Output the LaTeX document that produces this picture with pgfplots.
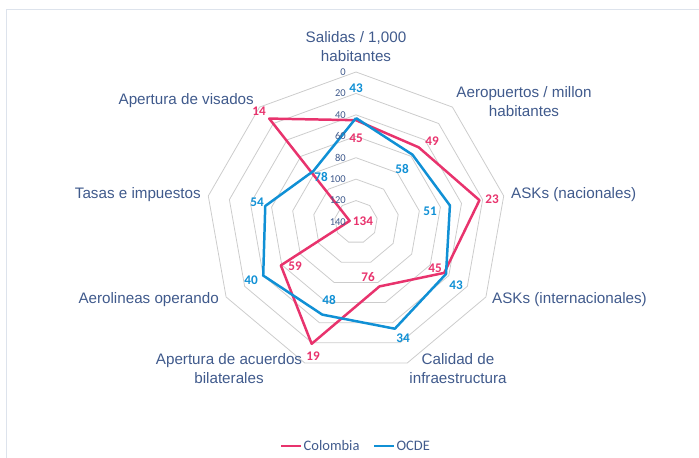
\documentclass[border=0pt]{standalone}
\usepackage{fontspec}
\setmainfont{Carlito}
\newfontfamily\arialf{Liberation Sans}
\usepackage{pgfplots}
\pgfplotsset{compat=1.18}
\usepackage{pgfplotstable}
\definecolor{colpink}{HTML}{E8336D}
\definecolor{colblue}{HTML}{1090D5}
\definecolor{textc}{HTML}{405A8C}
\definecolor{gridc}{HTML}{CCCCCC}
\definecolor{framec}{HTML}{DDE3EC}

\pgfplotstableread{
ang col ocde
90 45 43
50 49 58
10 23 51
-30 45 43
-70 76 34
-110 19 48
-150 59 40
-190 134 54
-230 14 78
90 45 43
}\datatab

\begin{document}
\begin{tikzpicture}
\begin{axis}[name=ax,
  width=699bp, height=458bp, scale only axis,
  xmin=-356, xmax=343, ymin=-236, ymax=222,
  hide axis, clip=false,
  legend columns=2,
  legend style={at={(0.509,0.026)}, anchor=center, draw=none, fill=none,
    font=\fontsize{14.5bp}{17bp}\selectfont, text=textc,
    nodes={inner sep=1.5bp},
    /tikz/every even column/.append style={column sep=12bp}},
  legend image code/.code={\draw[#1, line width=2pt] (0bp,0bp) -- (20bp,0bp);},
]
% frame
\draw[framec, line width=0.8pt] (axis cs:-350,-236) -- (axis cs:-350,213) -- (axis cs:343,213);
% grid nonagons
\pgfplotsinvokeforeach{20,40,60,80,100,120,140}{
  \addplot[gridc, line width=0.8pt, forget plot] table[
    x expr={1.0714286*#1*cos(\thisrow{ang})},
    y expr={1.0714286*#1*sin(\thisrow{ang})}] {\datatab};
}
% data
\addplot[colpink, line width=2.5pt, line join=round] table[
  x expr={1.0714286*(140-\thisrow{col})*cos(\thisrow{ang})},
  y expr={1.0714286*(140-\thisrow{col})*sin(\thisrow{ang})}] {\datatab};
\addlegendentry{Colombia}
\addplot[colblue, line width=2.5pt, line join=round] table[
  x expr={1.0714286*(140-\thisrow{ocde})*cos(\thisrow{ang})},
  y expr={1.0714286*(140-\thisrow{ocde})*sin(\thisrow{ang})}] {\datatab};
\addlegendentry{OCDE}
% tick labels
\pgfplotsinvokeforeach{0,20,40,60,80,100,120,140}{
  \node[anchor=east, inner sep=0pt, text=textc, font=\fontsize{10.5bp}{12bp}\selectfont]
    at (axis cs:-10,{1.0714286*(140-#1)}) {#1};
}
% category labels
\begin{scope}[every node/.style={inner sep=0pt, text=textc, font=\arialf\fontsize{15.2bp}{19bp}\selectfont, align=center}]
\node[anchor=center] at (axis cs:0,175) {Salidas / 1,000\\habitantes};
\node[anchor=center] at (axis cs:168,120) {Aeropuertos / millon\\habitantes};
\node[anchor=west] at (axis cs:155,27) {ASKs (nacionales)};
\node[anchor=west] at (axis cs:136,-78) {ASKs (internacionales)};
\node[anchor=center] at (axis cs:102,-147) {Calidad de\\infraestructura};
\node[anchor=center] at (axis cs:-127,-147) {Apertura de acuerdos\\bilaterales};
\node[anchor=east] at (axis cs:-137,-78) {Aerolineas operando};
\node[anchor=east] at (axis cs:-155,27) {Tasas e impuestos};
\node[anchor=east] at (axis cs:-102,121) {Apertura de visados};
\end{scope}
% data labels
\begin{scope}[every node/.style={inner sep=0pt, anchor=center, font=\bfseries\fontsize{13.2bp}{15bp}\selectfont}]
\node[text=colpink] at (axis cs:0,84) {45};
\node[text=colpink] at (axis cs:76,81) {49};
\node[text=colpink] at (axis cs:136,23) {23};
\node[text=colpink] at (axis cs:79,-46) {45};
\node[text=colpink] at (axis cs:12,-55) {76};
\node[text=colpink] at (axis cs:-43,-134) {19};
\node[text=colpink] at (axis cs:-61,-44) {59};
\node[text=colpink] at (axis cs:7,1) {134};
\node[text=colpink] at (axis cs:-97,111) {14};
\node[text=colblue] at (axis cs:0,134) {43};
\node[text=colblue] at (axis cs:46,53) {58};
\node[text=colblue] at (axis cs:74,11) {51};
\node[text=colblue] at (axis cs:100,-63) {43};
\node[text=colblue] at (axis cs:47,-116) {34};
\node[text=colblue] at (axis cs:-27,-78) {48};
\node[text=colblue] at (axis cs:-105,-58) {40};
\node[text=colblue] at (axis cs:-99,20) {54};
\node[text=colblue] at (axis cs:-35,45) {78};
\end{scope}
\end{axis}
\pgfresetboundingbox
\useasboundingbox (ax.south west) rectangle (ax.north east);
\end{tikzpicture}
\end{document}
